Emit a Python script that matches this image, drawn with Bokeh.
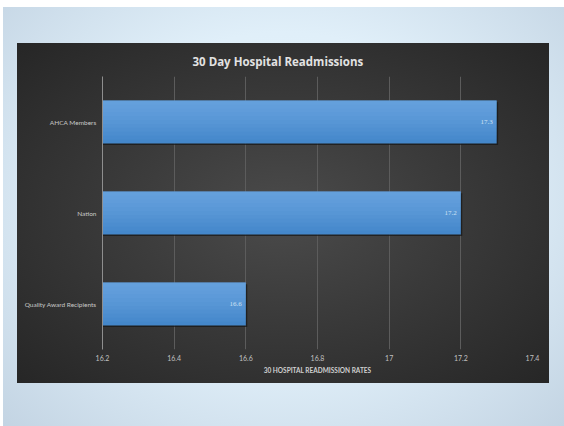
from bokeh.plotting import figure
from bokeh.models import (ColumnDataSource, FactorRange, Range1d, FixedTicker,
                          PrintfTickFormatter, LabelSet)
from bokeh.transform import dodge
from bokeh.layouts import column
from bokeh.embed import file_html
from bokeh.resources import INLINE

# ---- data ----
categories = ["AHCA Members", "Nation", "Quality Award Recipients"]
rates = [17.3, 17.2, 16.6]
x_ticks = [16.2, 16.4, 16.6, 16.8, 17.0, 17.2, 17.4]
title_text = "30 Day Hospital Readmissions"
x_title = "30 HOSPITAL READMISSION RATES"

src = ColumnDataSource(dict(cat=categories, value=rates,
                            label=[("%g" % v) for v in rates]))

FONT = "Lato"
p = figure(width=532, height=340,
           y_range=FactorRange(factors=list(reversed(categories))),
           x_range=Range1d(x_ticks[0], x_ticks[-1]),
           output_backend="svg", toolbar_location=None,
           min_border_left=85, min_border_right=17,
           min_border_top=33, min_border_bottom=34)
p.margin = (36, 15, 43, 14)
p.border_fill_alpha = 0
p.background_fill_alpha = 0
p.outline_line_color = None
p.styles = {"background": "radial-gradient(ellipse at 50% 50%, #4b4b4b 0%, #3a3a3a 45%, #262626 100%)"}

# title
p.title.text = title_text
p.title.align = "left"
p.title.offset = 90
p.title.text_font = "Open Sans"
p.title.text_font_style = "bold"
p.title.text_font_size = "11.5px"
p.title.text_color = "#e2e2e2"
p.title.standoff = 16

bh = 0.47
left0 = x_ticks[0]
# shadow
p.hbar(y=dodge("cat", -0.018, range=p.y_range), left=left0,
       right=dodge("value", 0.004), height=bh, source=src,
       fill_color="#151515", fill_alpha=0.7, line_color=None)
# base bar
p.hbar(y="cat", left=left0, right="value", height=bh, source=src,
       fill_color="#4487ca", line_color=None)
# gradient overlays
n = 10
for k in range(1, n + 1):
    f = (n + 1 - k) / (n + 1)
    p.hbar(y=dodge("cat", bh / 2 - bh * f / 2, range=p.y_range), left=left0,
           right="value", height=bh * f, source=src,
           fill_color="#8cc0ee", fill_alpha=0.075, line_color=None)

labels = LabelSet(x="value", y="cat", text="label", source=src,
                  x_offset=-4, text_align="right", text_baseline="middle",
                  text_font_size="7px", text_color="#cfe2f4",
                  text_font=FONT)
p.add_layout(labels)

# axes
p.xaxis.ticker = FixedTicker(ticks=x_ticks)
p.xaxis.formatter = PrintfTickFormatter(format="%g")
p.xaxis.axis_line_color = None
p.xaxis.major_tick_line_color = None
p.xaxis.minor_tick_line_color = None
p.xaxis.major_tick_out = 0
p.xaxis.minor_tick_out = 0
p.xaxis.major_label_text_font = FONT
p.xaxis.major_label_text_font_size = "7px"
p.xaxis.major_label_text_color = "#c0c0c0"
p.xaxis.major_label_standoff = 5
p.xaxis.axis_label = x_title
p.xaxis.axis_label_text_font = FONT
p.xaxis.axis_label_text_font_style = "bold"
p.xaxis.axis_label_text_font_size = "6.5px"
p.xaxis.axis_label_text_color = "#d0d0d0"
p.xaxis.axis_label_standoff = 3

p.yaxis.axis_line_color = "#8e8e8e"
p.yaxis.major_tick_line_color = None
p.yaxis.minor_tick_line_color = None
p.yaxis.major_tick_out = 0
p.yaxis.minor_tick_out = 0
p.yaxis.major_label_text_font = FONT
p.yaxis.major_label_text_font_size = "6.5px"
p.yaxis.major_label_text_color = "#c8c8c8"
p.yaxis.major_label_standoff = 6

p.xgrid.grid_line_color = "#5c5c5c"
p.ygrid.grid_line_color = None

layout = column(p, margin=(7, 0, 0, 3),
                styles={"background": "radial-gradient(ellipse at 50% 45%, #e8f5fd 0%, #e0eff9 50%, #c3d4e3 100%)"})

open("out.html", "w").write(file_html(layout, INLINE))
